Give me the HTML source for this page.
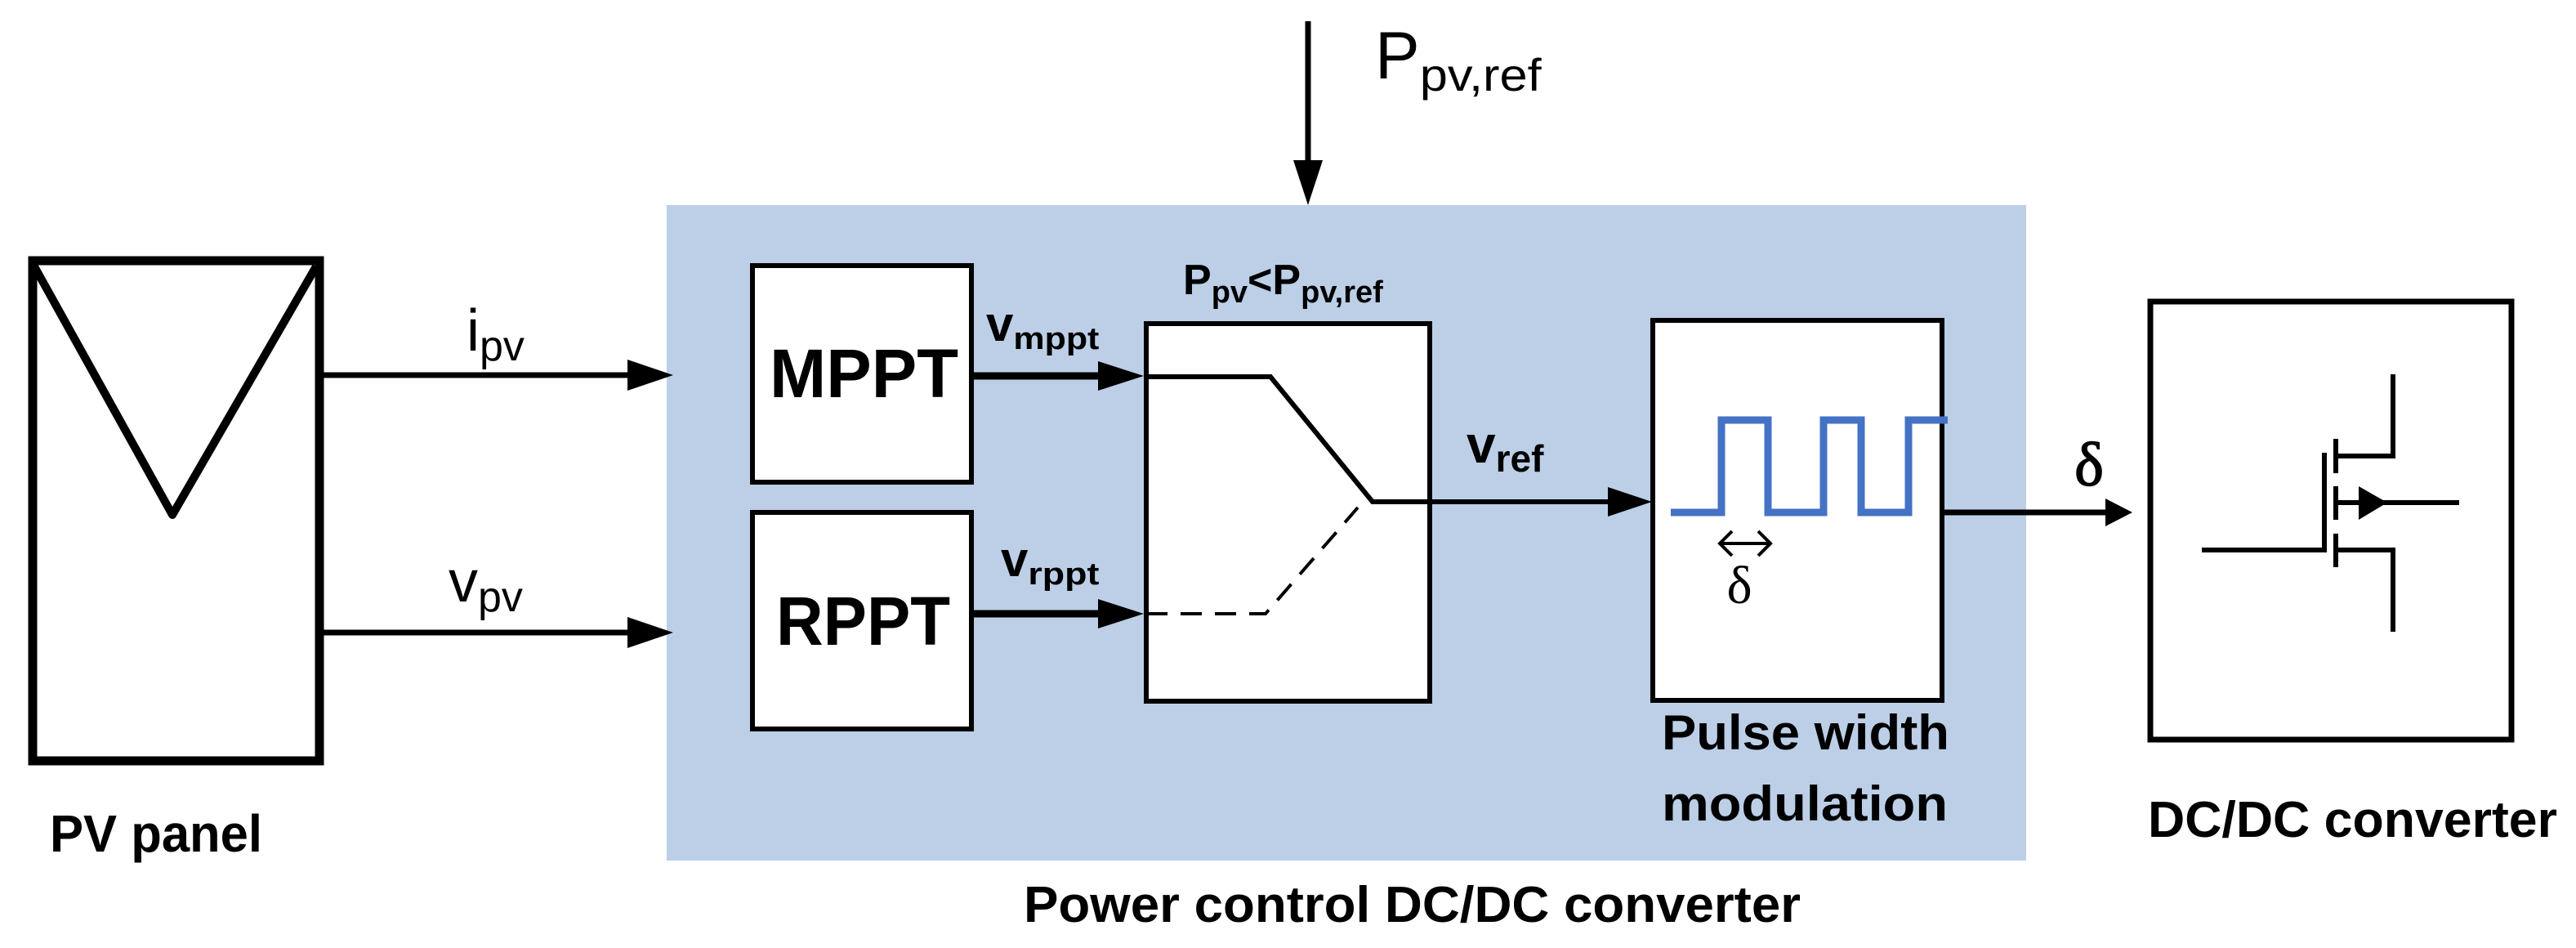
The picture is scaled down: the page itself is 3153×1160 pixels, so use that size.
<!DOCTYPE html>
<html><head><meta charset="utf-8"><style>html,body{margin:0;padding:0;background:#fff}svg{display:block}</style></head>
<body>
<svg width="3153" height="1160" viewBox="0 0 3153 1160" xmlns="http://www.w3.org/2000/svg" font-family="Liberation Sans, sans-serif">
<rect x="816" y="251" width="1664" height="802" fill="#bccfe7"/>
<!-- PV panel -->
<rect x="40" y="319" width="351" height="612" fill="#fff" stroke="#000" stroke-width="11"/>
<polyline points="42,326 211,630 387,326" fill="none" stroke="#000" stroke-width="10" stroke-linejoin="round"/>
<!-- input arrows -->
<line x1="396" y1="459" x2="790" y2="459" stroke="#000" stroke-width="7"/>
<polygon points="768,440 824,459 768,478" fill="#000"/>
<line x1="396" y1="774" x2="790" y2="774" stroke="#000" stroke-width="7"/>
<polygon points="768,755 824,774 768,793" fill="#000"/>
<text x="571" y="429" font-size="72">i<tspan font-size="52" dy="12">pv</tspan></text>
<text x="549" y="736" font-size="72">v<tspan font-size="52" dy="12">pv</tspan></text>
<!-- MPPT / RPPT -->
<rect x="921" y="325" width="268" height="265" fill="#fff" stroke="#000" stroke-width="6"/>
<rect x="921" y="627" width="268" height="265" fill="#fff" stroke="#000" stroke-width="6"/>
<text x="942" y="486" font-size="84" font-weight="bold" textLength="231" lengthAdjust="spacingAndGlyphs">MPPT</text>
<text x="950" y="789" font-size="84" font-weight="bold" textLength="213" lengthAdjust="spacingAndGlyphs">RPPT</text>
<line x1="1190" y1="460" x2="1350" y2="460" stroke="#000" stroke-width="9"/>
<polygon points="1344,442 1400,460 1344,478" fill="#000"/>
<line x1="1190" y1="751" x2="1350" y2="751" stroke="#000" stroke-width="9"/>
<polygon points="1344,733 1400,751 1344,769" fill="#000"/>
<text x="1207" y="417" font-size="60" font-weight="bold">v<tspan font-size="38" dy="10" textLength="105" lengthAdjust="spacingAndGlyphs">mppt</tspan></text>
<text x="1225" y="705" font-size="60" font-weight="bold">v<tspan font-size="38" dy="10" textLength="87" lengthAdjust="spacingAndGlyphs">rppt</tspan></text>
<!-- switch box -->
<rect x="1403" y="396" width="347" height="462" fill="#fff" stroke="#000" stroke-width="6"/>
<text x="1448" y="360" font-size="52" font-weight="bold">P<tspan font-size="38" dy="10">pv</tspan><tspan dy="-10" font-size="52">&lt;P</tspan><tspan font-size="38" dy="10">pv,ref</tspan></text>
<polyline points="1400,461 1555,461 1680,614 2000,614" fill="none" stroke="#000" stroke-width="6"/>
<polygon points="1968,596 2022,614 1968,632" fill="#000"/>
<polyline points="1403,751 1549,751 1662,621" fill="none" stroke="#000" stroke-width="4" stroke-dasharray="26,16"/>
<text x="1795" y="566" font-size="64" font-weight="bold">v<tspan font-size="46" dy="11">ref</tspan></text>
<!-- PWM -->
<rect x="2023" y="392" width="354" height="465" fill="#fff" stroke="#000" stroke-width="6"/>
<polyline points="2045,627 2107,627 2107,514 2164,514 2164,627 2232,627 2232,514 2278,514 2278,627 2336,627 2336,514 2384,514" fill="none" stroke="#4472c4" stroke-width="9"/>
<g stroke="#000" stroke-width="4" fill="none">
<line x1="2106" y1="665" x2="2166" y2="665"/>
<polyline points="2120,650 2105,665 2120,680"/>
<polyline points="2152,650 2167,665 2152,680"/>
</g>
<text x="2129" y="738" font-size="66" text-anchor="middle" font-family="Liberation Serif, serif">δ</text>
<text x="2034" y="917" font-size="60" font-weight="bold" textLength="352" lengthAdjust="spacingAndGlyphs">Pulse width</text>
<text x="2034" y="1004" font-size="60" font-weight="bold" textLength="350" lengthAdjust="spacingAndGlyphs">modulation</text>
<line x1="2377" y1="627" x2="2590" y2="627" stroke="#000" stroke-width="7"/>
<polygon points="2577,610 2610,627 2577,644" fill="#000"/>
<text x="2557" y="594" font-size="76" text-anchor="middle" font-family="Liberation Serif, serif" stroke="#000" stroke-width="1.5">δ</text>
<!-- top arrow -->
<line x1="1601" y1="26" x2="1601" y2="210" stroke="#000" stroke-width="7"/>
<polygon points="1583,196 1601,251 1619,196" fill="#000"/>
<text x="1683" y="96" font-size="82">P<tspan font-size="56" dy="15" textLength="149" lengthAdjust="spacingAndGlyphs">pv,ref</tspan></text>
<!-- DC/DC box -->
<rect x="2632" y="369" width="442" height="536" fill="#fff" stroke="#000" stroke-width="7"/>
<g stroke="#000" stroke-width="6" fill="none">
<polyline points="2929,458 2929,558 2859,558"/>
<polyline points="2859,673 2929,673 2929,773"/>
<line x1="2859" y1="537" x2="2859" y2="579"/>
<line x1="2859" y1="595" x2="2859" y2="636"/>
<line x1="2859" y1="653" x2="2859" y2="694"/>
<polyline points="2695,673 2845,673 2845,554"/>
<line x1="2859" y1="615" x2="3010" y2="615"/>
</g>
<polygon points="2887,595 2922,615 2887,636" fill="#000"/>
<!-- labels -->
<text x="61" y="1042" font-size="64" font-weight="bold" textLength="260" lengthAdjust="spacingAndGlyphs">PV panel</text>
<text x="1253" y="1128" font-size="62" font-weight="bold" textLength="951" lengthAdjust="spacingAndGlyphs">Power control DC/DC converter</text>
<text x="2629" y="1024" font-size="62" font-weight="bold" textLength="501" lengthAdjust="spacingAndGlyphs">DC/DC converter</text>
</svg>
</body></html>
